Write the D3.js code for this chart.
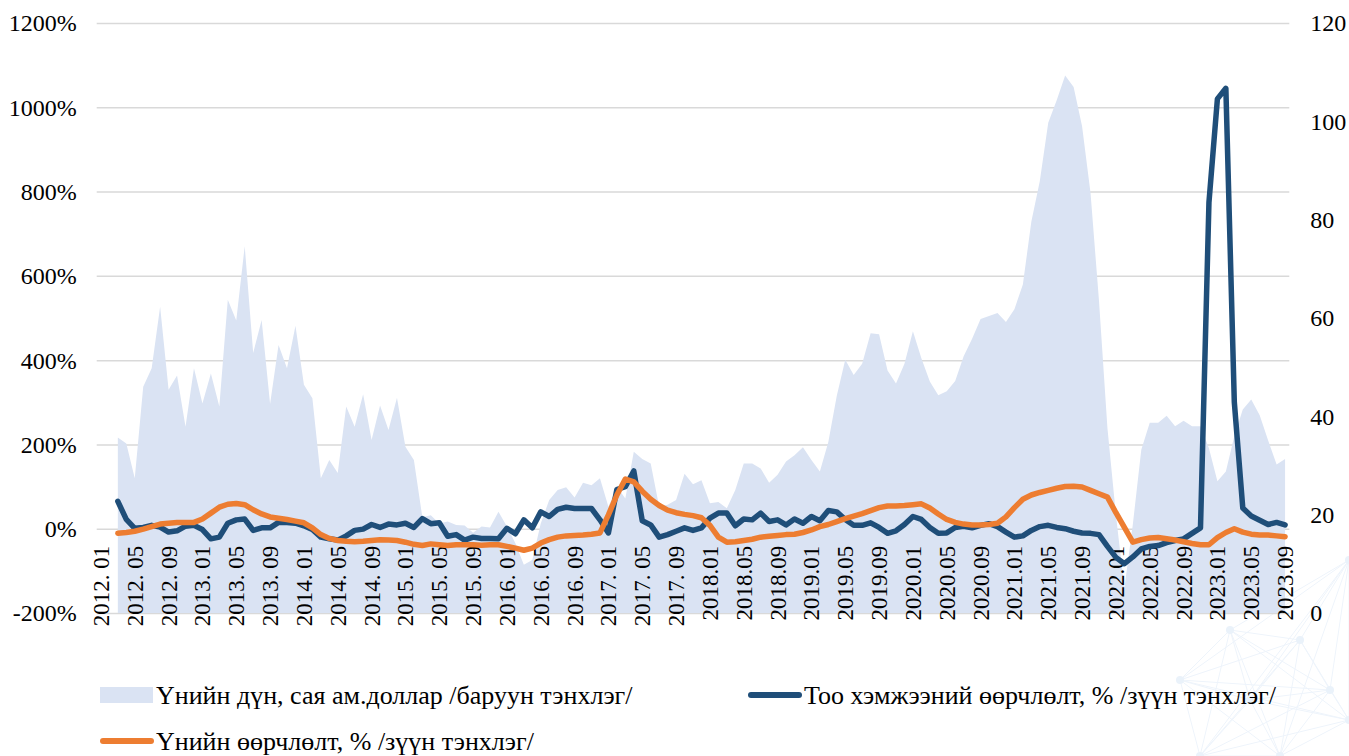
<!DOCTYPE html>
<html>
<head>
<meta charset="utf-8">
<script src="https://cdn.jsdelivr.net/npm/d3@7/dist/d3.min.js"></script>
<style>
  body { margin: 0; background: #fff; }
  svg { display: block; }
  svg text { font-family: "Liberation Serif", "Times New Roman", "DejaVu Serif", serif !important; }
</style>
</head>
<body>
<svg id="chart" width="1349" height="756"></svg>
<script>
// monthly series, 2012.01 .. 2023.09 (first two months have no data)
var tickLabels = [
  "2012. 01", "2012. 05", "2012. 09", "2013. 01", "2013. 05", "2013. 09",
  "2014. 01", "2014. 05", "2014. 09", "2015. 01", "2015. 05", "2015. 09",
  "2016. 01", "2016. 05", "2016. 09", "2017. 01", "2017. 05", "2017. 09",
  "2018.01", "2018.05", "2018.09", "2019.01", "2019.05", "2019.09",
  "2020.01", "2020.05", "2020.09", "2021.01", "2021.05", "2021.09",
  "2022.01", "2022.05", "2022.09", "2023.01", "2023.05", "2023.09"
];

// Үнийн дүн, сая ам.доллар (right axis)
var amountUsd = [
  null, null, 35.7, 34.5, 27.4, 46.0, 49.8, 62.3, 45.4, 48.3, 37.9, 49.8,
  42.6, 48.7, 42.0, 63.7, 59.5, 74.6, 52.9, 59.6, 42.5, 54.5, 49.8, 58.4,
  46.4, 43.7, 27.4, 31.1, 28.5, 42.0, 37.9, 44.5, 35.2, 42.2, 37.2, 43.8,
  33.8, 31.1, 19.5, 19.9, 18.2, 18.6, 17.9, 17.8, 16.3, 17.6, 17.4, 20.6,
  17.6, 14.2, 9.8, 10.8, 18.2, 23.0, 25.0, 25.6, 23.5, 26.5, 26.0, 27.4,
  21.6, 25.7, 23.3, 32.8, 31.3, 30.4, 21.6, 22.0, 23.0, 28.3, 26.2, 27.0,
  22.3, 22.6, 21.3, 25.0, 30.4, 30.4, 29.4, 26.5, 28.1, 30.8, 32.1, 33.7,
  31.1, 28.8, 34.8, 44.2, 51.5, 48.4, 50.7, 56.9, 56.7, 49.3, 46.7, 50.7,
  57.3, 51.8, 47.1, 44.3, 45.1, 47.2, 52.2, 55.8, 59.8, 60.4, 61.0, 59.2,
  61.8, 66.8, 79.6, 87.8, 99.7, 104.3, 109.3, 107.0, 99.0, 85.4, 63.5, 37.6,
  20.0, 5.0, 18.0, 33.2, 38.7, 38.7, 40.1, 38.0, 39.1, 38.0, 38.0, 33.5,
  26.8, 28.8, 36.0, 41.4, 43.4, 40.2, 35.1, 30.2, 31.3
];

// Тоо хэмжээний өөрчлөлт, % (left axis)
var qtyChange = [
  null, null, 65, 22, 1, 3, 8, 4, -8, -5, 6, 8,
  -2, -24, -20, 13, 21, 23, -4, 2, 2, 15, 15, 13,
  7, -2, -20, -24, -27, -17, -4, -1, 10, 3, 11, 9,
  13, 3, 24, 12, 14, -18, -14, -27, -20, -23, -23, -24,
  1, -12, 21, 2, 40, 29, 46, 51, 48, 48, 48, 21,
  -10, 93, 100, 137, 19, 9, -20, -14, -6, 2, -4, 2,
  25, 37, 37, 7, 23, 21, 37, 17, 21, 9, 23, 13,
  29, 19, 43, 40, 22, 8, 8, 14, 3, -11, -5, 10,
  29, 22, 3, -11, -10, 3, 6, 2, 8, 12, 5, -8,
  -20, -17, -4, 5, 8, 3, 0, -6, -10, -11, -14, -42,
  -68, -83, -67, -48, -42, -40, -33, -28, -24, -11, 2, 774,
  1020, 1045, 300, 49, 30, 20, 10, 15, 9
];

// Үнийн өөрчлөлт, % (left axis)
var priceChange = [
  null, null, -11, -9, -6, -1, 5, 11, 13, 15, 15, 15,
  23, 37, 51, 58, 60, 57, 45, 35, 28, 25, 22, 18,
  14, 2, -14, -23, -28, -30, -31, -30, -28, -26, -27, -28,
  -32, -37, -40, -36, -38, -40, -38, -38, -38, -39, -38, -38,
  -42, -46, -51, -46, -34, -26, -20, -17, -16, -15, -13, -10,
  33, 80, 118, 111, 89, 70, 55, 44, 38, 34, 31, 26,
  8, -20, -32, -31, -28, -25, -20, -18, -16, -14, -13, -9,
  -3, 5, 10, 17, 24, 30, 36, 43, 50, 54, 54, 55,
  57, 59, 49, 35, 22, 15, 11, 9, 9, 10, 13, 28,
  50, 70, 80, 86, 91, 96, 100, 101, 99, 91, 83, 75,
  38, 3, -32, -26, -22, -21, -24, -27, -31, -35, -38, -38,
  -21, -9, 0, -8, -13, -15, -15, -17, -19
];

var leftTicks = [-200, 0, 200, 400, 600, 800, 1000, 1200];
var rightTicks = [0, 20, 40, 60, 80, 100, 120];

var legendItems = [
  { name: "Үнийн дүн, сая ам.доллар /баруун тэнхлэг/", kind: "area", color: "#dae3f3" },
  { name: "Тоо хэмжээний өөрчлөлт, % /зүүн тэнхлэг/", kind: "line", color: "#1f4e79" },
  { name: "Үнийн өөрчлөлт, % /зүүн тэнхлэг/", kind: "line", color: "#ed7d31" }
];

var months = [];
for (var yr = 2012; yr <= 2023; yr++) {
  for (var mo = 1; mo <= 12; mo++) {
    if (yr === 2023 && mo > 9) break;
    months.push(yr + "." + (mo < 10 ? "0" + mo : mo));
  }
}

var M = { left: 96.7, right: 1289.3, top: 23, bottom: 613 };

var svg = d3.select("#chart");

// faint decorative network in the lower right corner
var deco = svg.append("g").attr("stroke", "#eef4fb").attr("fill", "none").attr("stroke-width", 1);
var decoPts = [[1349, 560], [1300, 640], [1250, 700], [1330, 690], [1200, 756], [1280, 756], [1349, 720], [1180, 680], [1230, 630]];
decoPts.forEach(function(a, i) {
  decoPts.slice(i + 1).forEach(function(b) {
    deco.append("line").attr("x1", a[0]).attr("y1", a[1]).attr("x2", b[0]).attr("y2", b[1]);
  });
});
decoPts.forEach(function(p) {
  svg.append("circle").attr("cx", p[0]).attr("cy", p[1]).attr("r", 4).attr("fill", "#eaf2fa");
});

var x = d3.scaleBand().domain(months).range([M.left, M.right]).padding(0);
var cx = function(i) { return x(months[i]) + x.bandwidth() / 2; };

var yL = d3.scaleLinear().domain([-200, 1200]).range([M.bottom, M.top]);
var yR = d3.scaleLinear().domain([0, 120]).range([M.bottom, M.top]);

// gridlines
svg.append("g")
  .attr("transform", "translate(" + M.left + ",0)")
  .call(d3.axisLeft(yL).tickValues(leftTicks).tickSize(-(M.right - M.left)).tickFormat(""))
  .call(function(g) {
    g.select(".domain").remove();
    g.selectAll("line").attr("stroke", "#d9d9d9").attr("stroke-width", 1.5);
  });

// area (right axis)
var area = d3.area()
  .defined(function(d) { return d != null; })
  .x(function(d, i) { return cx(i); })
  .y0(yR(0))
  .y1(function(d) { return yR(d); });

svg.append("path")
  .datum(amountUsd)
  .attr("fill", "#dae3f3")
  .attr("d", area);

// left axis labels
svg.append("g")
  .attr("transform", "translate(" + (M.left - 20) + ",0)")
  .call(d3.axisLeft(yL).tickValues(leftTicks).tickSize(0).tickPadding(0).tickFormat(function(d) { return d + "%"; }))
  .call(function(g) {
    g.select(".domain").remove();
    g.selectAll("text").attr("font-size", 24).attr("fill", "#000").attr("dy", "0.33em");
  });

// right axis labels
svg.append("g")
  .attr("transform", "translate(" + (M.right + 21) + ",0)")
  .call(d3.axisRight(yR).tickValues(rightTicks).tickSize(0).tickPadding(0))
  .call(function(g) {
    g.select(".domain").remove();
    g.selectAll("text").attr("font-size", 24).attr("fill", "#000").attr("dy", "0.33em");
  });

// category labels, axis crosses at 0 %
var tickMonths = months.filter(function(d, i) { return i % 4 === 0; });
svg.append("g")
  .attr("transform", "translate(0," + yL(0) + ")")
  .call(d3.axisBottom(x).tickValues(tickMonths).tickSize(0)
    .tickFormat(function(d, i) { return tickLabels[i]; }))
  .call(function(g) {
    g.select(".domain").remove();
    g.selectAll("text")
      .attr("font-size", 23).attr("fill", "#000")
      .attr("transform", "rotate(-90)")
      .attr("x", -17).attr("y", 0).attr("dy", "0.35em")
      .style("text-anchor", "end");
  });

// lines (left axis)
var line = d3.line()
  .defined(function(d) { return d != null; })
  .x(function(d, i) { return cx(i); })
  .y(function(d) { return yL(d); });

svg.append("path")
  .datum(qtyChange)
  .attr("fill", "none")
  .attr("stroke", "#1f4e79")
  .attr("stroke-width", 5.5)
  .attr("stroke-linejoin", "round")
  .attr("stroke-linecap", "round")
  .attr("d", line);

svg.append("path")
  .datum(priceChange)
  .attr("fill", "none")
  .attr("stroke", "#ed7d31")
  .attr("stroke-width", 5.5)
  .attr("stroke-linejoin", "round")
  .attr("stroke-linecap", "round")
  .attr("d", line);

// legend
var legendPos = [[100, 695], [748, 695], [100, 741]];
var legend = svg.append("g").attr("font-size", 26);
legendItems.forEach(function(item, i) {
  var p = legendPos[i];
  var g = legend.append("g").attr("transform", "translate(" + p[0] + "," + p[1] + ")");
  if (item.kind === "area") {
    g.append("rect").attr("x", 0).attr("y", -8).attr("width", 53).attr("height", 16).attr("fill", item.color);
  } else {
    g.append("line").attr("x1", 3).attr("x2", 51).attr("y1", 0).attr("y2", 0)
      .attr("stroke", item.color).attr("stroke-width", 6).attr("stroke-linecap", "round");
  }
  g.append("text").attr("x", 56).attr("y", 0).attr("dy", "0.33em").attr("fill", "#000").text(item.name);
});
</script>
</body>
</html>
